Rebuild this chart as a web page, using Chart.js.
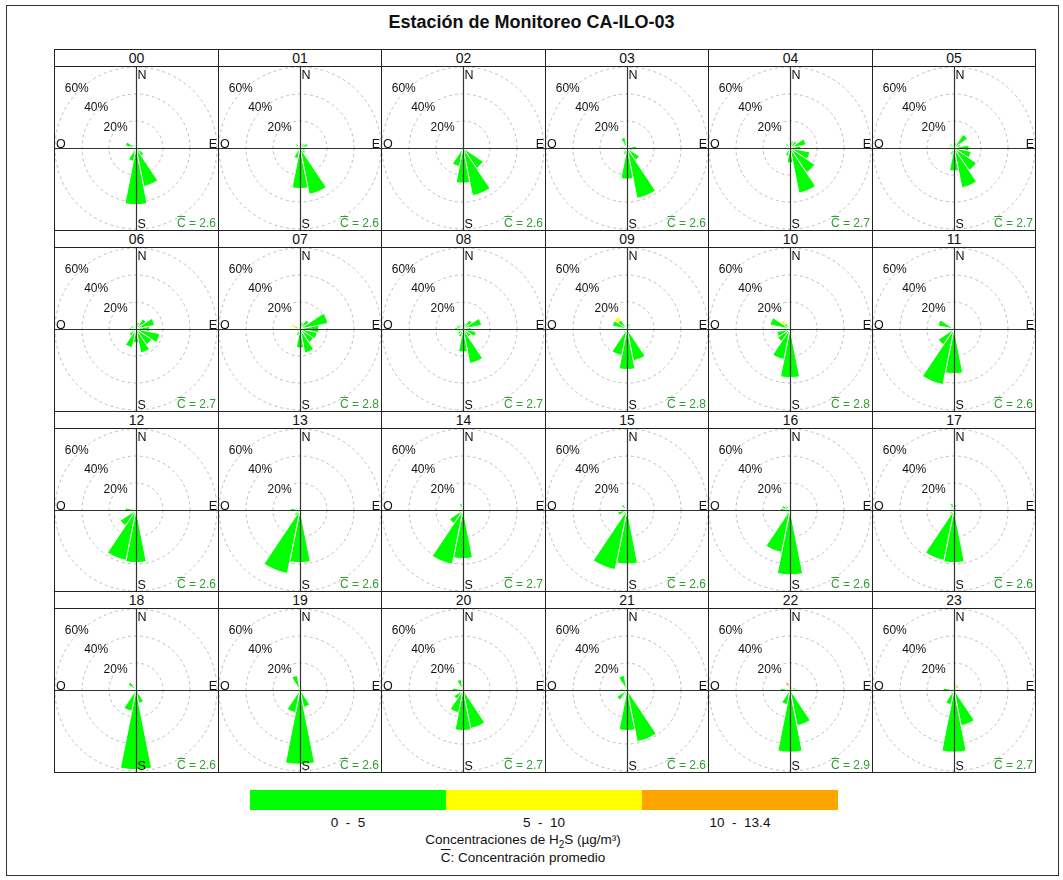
<!DOCTYPE html>
<html lang="es">
<head>
  <meta charset="UTF-8" />
  <title>Estación de Monitoreo CA-ILO-03</title>
  <script src="https://cdn.jsdelivr.net/npm/chart.js"></script>
  <style>
    * { box-sizing: border-box; }
    body {
      margin: 0;
      width: 1063px;
      height: 880px;
      background: #fff;
      font-family: 'Liberation Sans', Arial, sans-serif;
      color: #111;
      position: relative;
    }
    .frame { position: absolute; left: 6px; top: 5px; width: 1053px; height: 871px; border: 1px solid #333; }
    .title { position: absolute; left: 0; top: 12px; width: 1063px; text-align: center; font-size: 18px; font-weight: bold; line-height: 20px; }
    .panel { position: absolute; border: 1px solid #222; background: #fff; }
    .panel .head { height: 17px; border-bottom: 1px solid #222; text-align: center; font-size: 14px; line-height: 17px; }
    .panel canvas { position: absolute; left: 0; top: 17px; }
    .bar { position: absolute; left: 250px; top: 790px; width: 588px; height: 20px; display: flex; }
    .bar div { flex: 1; }
    .barlabels { position: absolute; left: 250px; top: 815px; width: 588px; display: flex; font-size: 13.5px; line-height: 15px; }
    .barlabels div { flex: 1; text-align: center; white-space: pre; }
    .note { position: absolute; left: 0; width: 1046px; text-align: center; font-size: 13.5px; line-height: 16px; }
    .ov { text-decoration: overline; }
  </style>
</head>
<body>
  <div class="frame"></div>
  <div class="title">Estación de Monitoreo CA-ILO-03</div>
  <div id="grid"></div>
  <div class="bar" id="bar"></div>
  <div class="barlabels" id="barlabels"></div>
  <div class="note" style="top:832px">Concentraciones de H<sub style="font-size:10px">2</sub>S (µg/m³)</div>
  <div class="note" style="top:850px"><span class="ov">C</span>: Concentración promedio</div>
  <script>
    const hours = ['00','01','02','03','04','05','06','07','08','09','10','11',
                   '12','13','14','15','16','17','18','19','20','21','22','23'];
    const directions = ['N','NNE','NE','ENE','E','ESE','SE','SSE','S','SSW','SW','WSW','W','WNW','NW','NNW'];
    const ringTicks = [20, 40, 60];
    const meanConc = [2.6, 2.6, 2.6, 2.6, 2.7, 2.7, 2.7, 2.8, 2.7, 2.8, 2.8, 2.6,
                      2.6, 2.6, 2.7, 2.6, 2.6, 2.6, 2.6, 2.6, 2.7, 2.6, 2.9, 2.7];

    // frequency (%) per direction, band 0 - 5 µg/m³
    const band1 = [
      [2, 1, 1, 1, 2, 3, 7, 29, 42, 10, 3, 2, 3, 8, 3, 2],
      [2, 3, 4, 6, 3, 4, 5, 35, 30, 8, 3, 2, 3, 3, 4, 2],
      [3, 1, 1, 1, 1, 3, 18, 36, 26, 14, 2, 1, 1, 1, 2, 3],
      [2, 2, 2, 3, 7, 4, 11, 38, 23, 5, 2, 2, 5, 3, 3, 8],
      [3, 5, 6, 12, 8, 15, 22, 34, 11, 6, 2, 2, 4, 3, 4, 2],
      [3, 4, 12, 5, 11, 13, 20, 30, 17, 5, 2, 2, 4, 3, 4, 2],
      [2, 5, 9, 14, 10, 18, 14, 18, 10, 14, 6, 3, 5, 4, 3, 2],
      [2, 5, 8, 21, 14, 13, 12, 18, 14, 5, 2, 2, 3, 4, 2, 2],
      [3, 4, 8, 14, 6, 10, 7, 26, 17, 6, 5, 4, 6, 5, 4, 3],
      [2, 4, 3, 2, 3, 2, 3, 24, 30, 20, 3, 2, 3, 11, 8, 2],
      [1, 1, 1, 1, 2, 3, 3, 3, 36, 23, 11, 10, 3, 15, 5, 1],
      [1, 1, 1, 1, 1, 1, 1, 2, 33, 42, 14, 2, 2, 12, 2, 1],
      [1, 1, 1, 1, 1, 1, 1, 2, 39, 38, 14, 3, 8, 3, 2, 1],
      [1, 1, 1, 1, 1, 1, 1, 2, 39, 48, 5, 3, 7, 3, 2, 1],
      [2, 2, 1, 1, 1, 1, 1, 2, 36, 41, 12, 3, 2, 2, 2, 5],
      [2, 1, 1, 1, 1, 1, 1, 2, 40, 45, 4, 7, 3, 3, 5, 2],
      [3, 2, 1, 1, 1, 1, 1, 2, 48, 32, 3, 3, 7, 6, 4, 2],
      [4, 4, 2, 1, 1, 1, 1, 4, 39, 38, 4, 2, 2, 2, 3, 5],
      [2, 1, 1, 1, 1, 1, 1, 10, 59, 16, 2, 1, 1, 2, 7, 2],
      [2, 1, 1, 1, 1, 1, 1, 13, 55, 17, 2, 1, 1, 1, 2, 11],
      [2, 1, 1, 1, 1, 1, 1, 29, 30, 17, 8, 3, 8, 2, 1, 8],
      [2, 1, 1, 1, 1, 1, 1, 39, 30, 4, 9, 3, 5, 2, 2, 11],
      [1.5, 2, 2, 4, 5, 1, 1, 27, 46, 11, 3, 2, 7, 2, 2, 2],
      [1, 1.5, 4, 2, 1, 1, 1, 27, 46, 11, 3, 2, 8, 2, 1, 1]
    ];
    // extra frequency (%) in the 5 - 10 and 10 - 13.4 bands: [hour, direction, value]
    const band2 = [[7, 13, 2.5], [9, 14, 3], [10, 14, 3], [20, 14, 2.5], [22, 15, 1], [23, 1, 3.5]];
    const band3 = [[22, 15, 3]];

    const bandLabels = ['0  -  5', '5  -  10', '10  -  13.4'];
    const bandColors = ['#00ff00', '#ffff00', '#ffa500'];

    document.getElementById('bar').innerHTML = bandColors.map(c => `<div style="background:${c}"></div>`).join('');
    document.getElementById('barlabels').innerHTML = bandLabels.map(t => `<div>${t}</div>`).join('');

    const roseDecor = {
      id: 'roseDecor',
      afterDatasetsDraw(chart) {
        const { ctx, chartArea: a } = chart;
        const r = chart.scales.r;
        const cx = r.xCenter + 0.5, cy = r.yCenter + 0.5;
        ctx.save();
        ctx.strokeStyle = '#333';
        ctx.lineWidth = 1.2;
        ctx.beginPath();
        ctx.moveTo(cx, a.top); ctx.lineTo(cx, a.bottom);
        ctx.moveTo(a.left, cy); ctx.lineTo(a.right, cy);
        ctx.stroke();

        ctx.fillStyle = '#111';
        ctx.font = '12.5px "Liberation Sans", Arial, sans-serif';
        ctx.textAlign = 'left';
        ctx.textBaseline = 'top';
        ctx.fillText('N', cx + 1, a.top + 2);
        ctx.textBaseline = 'bottom';
        ctx.fillText('S', cx + 1, a.bottom + 1);
        ctx.textBaseline = 'alphabetic';
        ctx.fillText('O', a.left + 1, cy - 1);
        ctx.textAlign = 'right';
        ctx.fillText('E', a.right - 1, cy - 1);

        ctx.font = '12px "Liberation Sans", Arial, sans-serif';
        ctx.textAlign = 'center';
        ctx.textBaseline = 'middle';
        ringTicks.forEach(v => {
          const d = r.getDistanceFromCenterForValue(v) + 2;
          ctx.fillText(v + '%', cx - d * 0.72, cy - d * 0.72);
        });

        // mean concentration, C with overline
        const txt = 'C = ' + chart.options.plugins.roseDecor.mean.toFixed(1);
        const w = ctx.measureText(txt).width;
        const wc = ctx.measureText('C').width;
        const x0 = a.right - 2 - w, base = a.bottom - 3;
        ctx.fillStyle = '#2e9e2e';
        ctx.strokeStyle = '#2e9e2e';
        ctx.textAlign = 'left';
        ctx.textBaseline = 'alphabetic';
        ctx.fillText(txt, x0, base);
        ctx.lineWidth = 1;
        ctx.beginPath();
        ctx.moveTo(x0 + 0.5, base - 10.5);
        ctx.lineTo(x0 + wc - 0.5, base - 10.5);
        ctx.stroke();
        ctx.restore();
      }
    };

    const grid = document.getElementById('grid');
    hours.forEach((h, i) => {
      const c = i % 6, row = Math.floor(i / 6);
      const L = Math.round(54 + c * 163.5), R = Math.round(54 + (c + 1) * 163.5);
      const T = Math.round(49 + row * 180.75), B = Math.round(49 + (row + 1) * 180.75);
      const panel = document.createElement('div');
      panel.className = 'panel';
      panel.style.left = L + 'px';
      panel.style.top = T + 'px';
      panel.style.width = (R - L + 1) + 'px';
      panel.style.height = (B - T + 1) + 'px';
      panel.innerHTML = `<div class="head">${h}</div>`;
      const canvas = document.createElement('canvas');
      canvas.width = R - L - 1;
      canvas.height = B - T - 18;
      panel.appendChild(canvas);
      grid.appendChild(panel);

      const low = band1[i].slice();
      const mid = low.slice();
      band2.filter(e => e[0] === i).forEach(e => { mid[e[1]] += e[2]; });
      const high = mid.slice();
      band3.filter(e => e[0] === i).forEach(e => { high[e[1]] += e[2]; });

      const ds = (data, color) => ({ data, backgroundColor: color, borderColor: '#fff', borderWidth: 1 });

      new Chart(canvas, {
        type: 'polarArea',
        data: {
          labels: directions,
          datasets: [ds(low, bandColors[0]), ds(mid, bandColors[1]), ds(high, bandColors[2])]
        },
        options: {
          responsive: false,
          animation: false,
          events: [],
          devicePixelRatio: 1,
          layout: { padding: 0 },
          plugins: {
            legend: { display: false },
            tooltip: { enabled: false },
            roseDecor: { mean: meanConc[i] }
          },
          scales: {
            r: {
              min: 0,
              max: 60,
              startAngle: -11.25,
              ticks: { display: false, stepSize: 20 },
              grid: { color: '#bdbdbd', lineWidth: 1, circular: true },
              border: { dash: [3, 3] },
              angleLines: { display: false },
              pointLabels: { display: false }
            }
          }
        },
        plugins: [roseDecor]
      });
    });
  </script>
</body>
</html>
